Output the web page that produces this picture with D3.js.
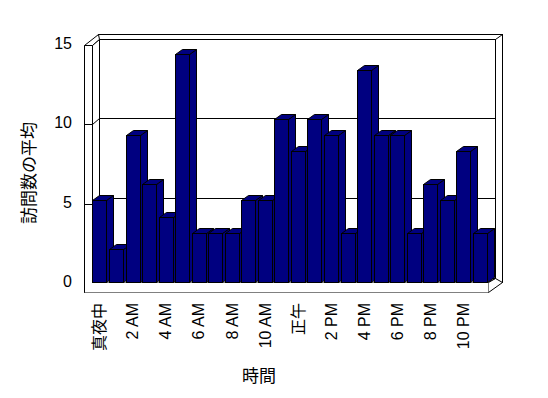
<!DOCTYPE html>
<html>
<head>
<meta charset="utf-8">
<script src="https://cdn.jsdelivr.net/npm/d3@7"></script>
<style>
  html, body { margin: 0; padding: 0; background: #fff; }
  svg { display: block; }
  text { font-family: "Liberation Sans", Arial, "Noto Sans CJK JP", sans-serif; fill: #000; }
</style>
</head>
<body>
<div id="chart"></div>
<script>
// data
const categories = ["真夜中", "1 AM", "2 AM", "3 AM", "4 AM", "5 AM", "6 AM", "7 AM", "8 AM", "9 AM", "10 AM", "11 AM",
                    "正午", "1 PM", "2 PM", "3 PM", "4 PM", "5 PM", "6 PM", "7 PM", "8 PM", "9 PM", "10 PM", "11 PM"];
const visits = [5, 2, 9, 6, 4, 14, 3, 3, 3, 5, 5, 10, 8, 10, 9, 3, 13, 9, 9, 3, 6, 5, 8, 3];
const yTicks = [0, 5, 10, 15];
const yTitle = "訪問数の平均";
const xTitle = "時間";

const W = 548, H = 398;
const barColor = "#000080";

// oblique depth offset of the bars / half the floor depth
const DX = 7, DY = -5;

// snap to pixel centres so 1px strokes stay sharp
const p = v => Math.round(v) + 0.5;

const svg = d3.select("#chart").append("svg")
    .attr("width", W).attr("height", H);

let x = d3.scaleBand().domain(categories).range([91.5, 488.3]);
let y = d3.scaleLinear().domain([0, 15]).range([281.7, 37.2]);      // bar front plane
let yBack = d3.scaleLinear().domain([0, 15]).range([277.5, 38.5]);  // back wall face
let yFront = d3.scaleLinear().domain([0, 15]).range([283.3, 44.7]); // side wall front edge

let x0 = p(x.range()[0]), x1 = p(x.range()[1]);
let floorTop = p(y(0)), floorBottom = floorTop + 10;
let sideOuter = x0 - 8;
let backTop = p(yBack(15)), backBottom = p(yBack(0));

let g = svg.append("g")
    .attr("stroke", "#000")
    .attr("stroke-width", 1);

// back wall slab
g.append("rect")
    .attr("x", x0 + DX - 1).attr("y", backTop - 5)
    .attr("width", x1 + 2 * DX - (x0 + DX - 1)).attr("height", floorTop - (backTop - 5))
    .attr("fill", "#fff");
g.append("rect")
    .attr("x", x0 + DX).attr("y", backTop)
    .attr("width", x1 - x0).attr("height", backBottom - backTop)
    .attr("fill", "#fff");
g.append("line")
    .attr("x1", x1 + DX).attr("y1", backTop)
    .attr("x2", x1 + 2 * DX).attr("y2", backTop - 5);

// gridlines on the back wall
g.selectAll(".grid")
    .data(yTicks.filter(d => d > 0 && d < 15))
    .enter().append("line")
    .attr("class", "grid")
    .attr("x1", x0 + DX).attr("x2", x1 + DX)
    .attr("y1", d => p(yBack(d))).attr("y2", d => p(yBack(d)));

// floor
g.append("path")
    .attr("fill", "#fff")
    .attr("d", `M${x0},${floorTop}L${x1},${floorTop}L${x1 + DX},${backBottom}L${x0 + DX},${backBottom}Z`);
g.append("path")
    .attr("fill", "#fff")
    .attr("d", `M${x1},${floorTop}L${x1},${floorBottom}L${x1 + 2 * DX},${floorTop}L${x1 + DX},${backBottom}Z`);
g.append("rect")
    .attr("x", sideOuter).attr("y", floorTop)
    .attr("width", x1 - sideOuter).attr("height", floorBottom - floorTop)
    .attr("fill", "#fff");
g.selectAll(".xtick")
    .data(categories.slice(1))
    .enter().append("line")
    .attr("class", "xtick")
    .attr("x1", d => p(x(d))).attr("x2", d => p(x(d)))
    .attr("y1", floorTop).attr("y2", floorBottom);

// side wall
let frontTop = p(yFront(15));
g.append("path")
    .attr("fill", "#fff")
    .attr("d", `M${sideOuter},${frontTop}L${x0 + DX - 1},${backTop - 5}L${x0 + DX},${backTop}L${x0},${frontTop}Z`);
g.append("path")
    .attr("fill", "#fff")
    .attr("d", `M${x0},${frontTop}L${x0 + DX},${backTop}L${x0 + DX},${backBottom}L${x0},${floorTop}Z`);
g.append("path")
    .attr("fill", "#fff")
    .attr("stroke", "none")
    .attr("d", `M${sideOuter},${frontTop}L${x0},${frontTop}L${x0},${floorTop}L${x1},${floorTop}L${x1},${floorBottom}L${sideOuter},${floorBottom}Z`);
g.append("path")
    .attr("fill", "none")
    .attr("d", `M${sideOuter},${floorBottom}L${sideOuter},${frontTop}L${x0},${frontTop}L${x0},${floorTop}`);
g.selectAll(".ytick")
    .data(yTicks.filter(d => d > 0 && d < 15))
    .enter().append("path")
    .attr("class", "ytick")
    .attr("fill", "none")
    .attr("d", d => `M${sideOuter},${p(yFront(d))}L${x0},${p(yFront(d))}L${x0 + DX},${p(yBack(d))}`);

// bars, left to right so each front covers the previous side face
let bw = 14;
let bars = g.selectAll(".bar")
    .data(categories.map((c, i) => ({ cat: c, value: visits[i] })))
    .enter().append("g")
    .attr("class", "bar")
    .attr("fill", barColor);

bars.append("path")
    .attr("d", d => {
        let xs = p(x(d.cat) + 1) + bw, yt = p(y(d.value));
        return `M${xs},${yt}L${xs + DX},${yt + DY}L${xs + DX},${floorTop + DY}L${xs},${floorTop}Z`;
    });
bars.append("path")
    .attr("d", d => {
        let xs = p(x(d.cat) + 1), yt = p(y(d.value));
        return `M${xs},${yt}L${xs + DX},${yt + DY}L${xs + bw + DX},${yt + DY}L${xs + bw},${yt}Z`;
    });
bars.append("rect")
    .attr("x", d => p(x(d.cat) + 1))
    .attr("y", d => p(y(d.value)))
    .attr("width", bw)
    .attr("height", d => floorTop - p(y(d.value)));

// y tick labels
svg.selectAll(".ylabel")
    .data(yTicks)
    .enter().append("text")
    .attr("class", "ylabel")
    .attr("x", 72)
    .attr("y", d => yFront(d) - 1.5)
    .attr("text-anchor", "end")
    .attr("dominant-baseline", "central")
    .style("font-size", "16px")
    .text(d => d);

// x tick labels, every second hour
svg.selectAll(".xlabel")
    .data(categories.filter((c, i) => i % 2 === 0))
    .enter().append("text")
    .attr("class", "xlabel")
    .attr("transform", d => "translate(" + (x(d) + x.bandwidth() / 2) + ",303) rotate(-90)")
    .attr("text-anchor", "end")
    .attr("dominant-baseline", "central")
    .style("font-size", "16px")
    .text(d => d);

// axis titles
svg.append("text")
    .attr("transform", "translate(29,173) rotate(-90)")
    .attr("text-anchor", "middle")
    .attr("dominant-baseline", "central")
    .style("font-size", "17px")
    .text(yTitle);

svg.append("text")
    .attr("x", 259).attr("y", 376)
    .attr("text-anchor", "middle")
    .attr("dominant-baseline", "central")
    .style("font-size", "17px")
    .text(xTitle);
</script>
</body>
</html>
